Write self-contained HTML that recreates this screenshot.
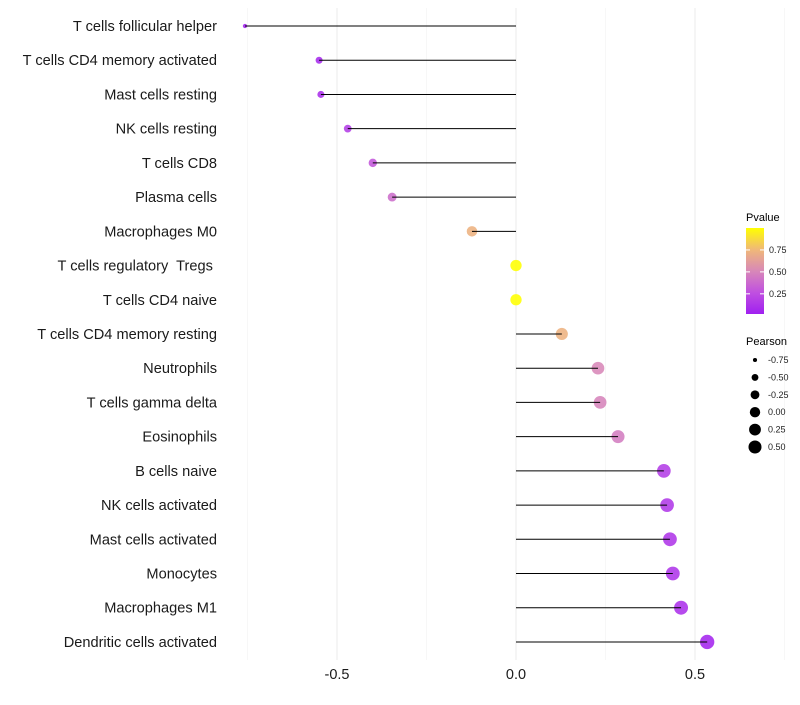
<!DOCTYPE html>
<html><head><meta charset="utf-8"><style>
body{margin:0;background:#fff;font-family:"Liberation Sans",sans-serif}
text{white-space:pre}
</style></head><body>
<svg id="chart" width="800" height="700" xmlns="http://www.w3.org/2000/svg">
<defs><linearGradient id="pg" x1="0" y1="1" x2="0" y2="0">
<stop offset="0" stop-color="#a020f0"/><stop offset="0.25" stop-color="#c050e0"/><stop offset="0.5" stop-color="#d888b8"/><stop offset="0.75" stop-color="#f0b878"/><stop offset="1" stop-color="#ffff00"/></linearGradient></defs>
<g id="grid"></g>
<g id="marks"></g>
<g id="ylabels"></g>
<g id="xlabels"></g>
<g>
<text x="746" y="221" font-size="11">Pvalue</text>
<rect x="746" y="228" width="18" height="86" fill="url(#pg)"/>
<g id="plegend"></g>
</g>
<g>
<text x="746" y="345" font-size="11">Pearson</text>
<g id="slegend"></g>
</g>
</svg>
<script>
const categories=["T cells follicular helper","T cells CD4 memory activated","Mast cells resting","NK cells resting","T cells CD8","Plasma cells","Macrophages M0","T cells regulatory  Tregs ","T cells CD4 naive","T cells CD4 memory resting","Neutrophils","T cells gamma delta","Eosinophils","B cells naive","NK cells activated","Mast cells activated","Monocytes","Macrophages M1","Dendritic cells activated"];
const pearson=[-0.757,-0.55,-0.545,-0.47,-0.40,-0.346,-0.123,0,0,0.128,0.229,0.235,0.285,0.413,0.422,0.43,0.438,0.461,0.534];
const pvalue=[0.02,0.05,0.08,0.15,0.28,0.38,0.72,1.0,1.0,0.72,0.5,0.48,0.45,0.15,0.13,0.12,0.11,0.09,0.03];
const xTicks=[-0.5,0,0.5];
const xTickLabels=["-0.5","0.0","0.5"];
const sizeBreaks=[-0.75,-0.5,-0.25,0,0.25,0.5];
const sizeLabels=["-0.75","-0.50","-0.25","0.00","0.25","0.50"];
const pBreaks=[0.25,0.5,0.75];
const pLabels=["0.25","0.50","0.75"];
const NS="http://www.w3.org/2000/svg";
const x=v=>516+v*358;
const y=i=>26+i*34.22;
const r=v=>Math.sqrt(5+(v+0.75)*36);
const stops=[[0,[160,32,240]],[0.25,[192,80,224]],[0.5,[216,136,184]],[0.75,[240,184,120]],[1,[255,255,0]]];
function col(p){p=Math.max(0,Math.min(1,p));for(let k=1;k<stops.length;k++){if(p<=stops[k][0]){const a=stops[k-1],b=stops[k],t=(p-a[0])/(b[0]-a[0]);return "rgb("+a[1].map((c,j)=>Math.round(c+(b[1][j]-c)*t)).join(",")+")";}}return "rgb(255,255,0)";}
function mk(tag,attrs,parent){const e=document.createElementNS(NS,tag);for(const k in attrs)e.setAttribute(k,attrs[k]);parent.appendChild(e);return e;}
const grid=document.getElementById("grid"),marks=document.getElementById("marks"),yl=document.getElementById("ylabels"),xl=document.getElementById("xlabels");
[-0.75,-0.25,0.25,0.75].forEach(v=>{const l=mk("line",{x1:x(v),x2:x(v),y1:8,y2:660,stroke:"#f2f2f2","stroke-width":0.6},grid);});
xTicks.forEach((v,i)=>{const l=mk("line",{x1:x(v),x2:x(v),y1:8,y2:660,stroke:"#ebebeb","stroke-width":1},grid);
const t=mk("text",{x:x(v),y:679,"font-size":14.5,"text-anchor":"middle",fill:"#1a1a1a"},xl);t.textContent=xTickLabels[i];});
categories.forEach((c,i)=>{const t=mk("text",{x:217,y:y(i)+5,"font-size":14.6,"text-anchor":"end",fill:"#1a1a1a"},yl);t.textContent=c;
const pt=mk("circle",{cx:x(pearson[i]),cy:y(i),r:r(pearson[i]),fill:col(pvalue[i]),"fill-opacity":0.88},marks);
const ln=mk("line",{x1:x(0),x2:x(pearson[i]),y1:y(i),y2:y(i),stroke:"#000","stroke-width":1},marks);});
const pl=document.getElementById("plegend");
pBreaks.forEach((p,i)=>{const yy=314-(p-0.02)/(0.98)*86;const tk=mk("line",{x1:746,x2:750,y1:yy,y2:yy,stroke:"#fff"},pl);const tk2=mk("line",{x1:760,x2:764,y1:yy,y2:yy,stroke:"#fff"},pl);
const t=mk("text",{x:769,y:yy+3,"font-size":9,fill:"#222"},pl);t.textContent=pLabels[i];});
const sl=document.getElementById("slegend");
sizeBreaks.forEach((s,i)=>{const yy=360+i*17.4;const c=mk("circle",{cx:755,cy:yy,r:r(s)*0.92,fill:"#000"},sl);
const t=mk("text",{x:768,y:yy+3,"font-size":9,fill:"#222"},sl);t.textContent=sizeLabels[i];});
</script>
</body></html>
